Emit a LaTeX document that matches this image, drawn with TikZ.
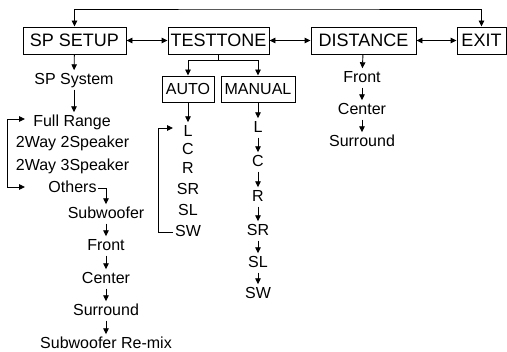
\documentclass[tikz,border=0pt]{standalone}
\usepackage{fontspec}
\setmainfont{Liberation Sans}
\usetikzlibrary{arrows.meta}

\begin{document}
\begin{tikzpicture}[x=1pt, y=-1pt, line width=0.9pt,
                    >={Triangle[length=6pt,width=5.5pt]}]
               \tikzstyle{menu}=[draw, minimum height=27pt, inner sep=1pt, font=\fontsize{18}{20}\selectfont]
               \tikzstyle{submenu}=[menu, minimum height=26pt, font=\fontsize{16}{18}\selectfont]
               \tikzstyle{item}=[inner sep=1.5pt, text height=12pt, text depth=3.5pt, font=\fontsize{16}{18}\selectfont]

               \useasboundingbox (0,0) rectangle (507,352);

               % main menu
               \node[menu, minimum width=103pt] (sp) at (74.5,40.5) {SP SETUP};
               \node[menu, minimum width=101pt] (tt) at (218.5,40.5) {TESTTONE};
               \node[menu, minimum width=105pt] (dist) at (363.5,40.5) {DISTANCE};
               \node[menu, minimum width=49pt] (exit) at (481.5,40.5) {EXIT};
               \draw[<->] (sp) -- (tt);
               \draw[<->] (tt) -- (dist);
               \draw[<->] (dist) -- (exit);
               \coordinate (loop) at (280,9);
               \draw[<->] (sp.north) |- (loop) -| (exit.north);

               % SP SETUP
               \node[item] (spsys) at (74,80) {SP System};
               \node[item] (full) at (72,122) {Full Range};
               \node[item] (way2) at (72.5,143) {2Way 2Speaker};
               \node[item] (way3) at (72.5,166) {2Way 3Speaker};
               \node[item] (others) at (72.5,188) {Others};
               \node[item] (sub) at (106,214) {Subwoofer};
               \node[item] (front) at (106,246) {Front};
               \node[item] (center) at (106,279) {Center};
               \node[item] (surr) at (106,311) {Surround};
               \node[item] (remix) at (106,344) {Subwoofer Re-mix};
               \draw[->] (sp) -- (spsys);
               \draw[->] (spsys) -- (full.north -| spsys);
               \coordinate (fullIn) at (25,119);
               \coordinate (othersIn) at (25,187);
               \draw[<->] (fullIn) -- ++(-17.5,0) |- (othersIn);
               \draw[->] (others.east) -| (sub.north);
               \draw[->] (sub) -- (front);
               \draw[->] (front) -- (center);
               \draw[->] (center) -- (surr);
               \draw[->] (surr) -- (remix);

               % TESTTONE
               \node[submenu, minimum width=52pt] (auto) at (188,89) {AUTO};
               \node[submenu, minimum width=74pt] (man) at (258,89) {MANUAL};
               \draw[->] (tt.south) -- ++(0,6) -| (auto.north);
               \draw[->] (tt.south) -- ++(0,6) -| (man.north);

               \node[item] (aL) at (188,132) {L};
               \node[item] (aC) at (188,150) {C};
               \node[item] (aR) at (188,169) {R};
               \node[item] (aSR) at (188,190) {SR};
               \node[item] (aSL) at (188,211) {SL};
               \node[item] (aSW) at (188,232) {SW};
               \draw[->] (auto) -- (aL);
               \coordinate (autoIn) at (173,128);
               \draw[->] (aSW.west) -- ++(-15,0) |- (autoIn);

               \node[item] (mL) at (258,128) {L};
               \node[item] (mC) at (258,162) {C};
               \node[item] (mR) at (258,197) {R};
               \node[item] (mSR) at (258,231) {SR};
               \node[item] (mSL) at (258,263) {SL};
               \node[item] (mSW) at (258,294) {SW};
               \draw[->] (man) -- (mL);
               \draw[->] (mL) -- (mC);
               \draw[->] (mC) -- (mR);
               \draw[->] (mR) -- (mSR);
               \draw[->] (mSR) -- (mSL);
               \draw[->] (mSL) -- (mSW);

               % DISTANCE
               \node[item] (dFront) at (362,78) {Front};
               \node[item] (dCenter) at (362,110) {Center};
               \node[item] (dSurr) at (362,142) {Surround};
               \draw[->] (dist) -- (dFront);
               \draw[->] (dFront) -- (dCenter);
               \draw[->] (dCenter) -- (dSurr);
            \end{tikzpicture}
\end{document}
